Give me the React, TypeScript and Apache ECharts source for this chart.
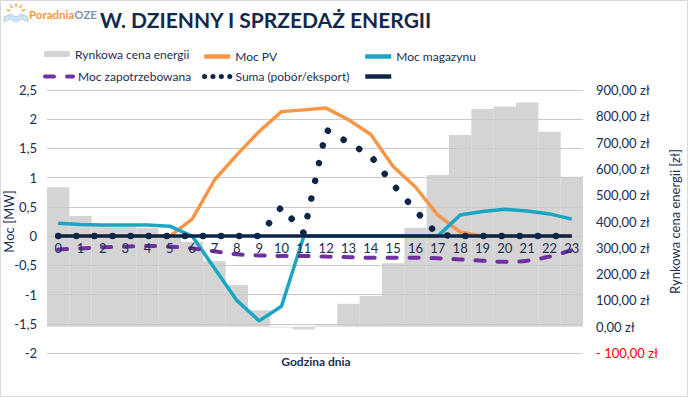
import React, { useEffect, useRef } from 'react';
import * as echarts from 'echarts';

const hours = ['0', '1', '2', '3', '4', '5', '6', '7', '8', '9', '10', '11', '12', '13', '14', '15', '16', '17', '18', '19', '20', '21', '22', '23'];
const marketPrice = [530, 421, 385, 380, 375, 340, 323, 250, 158, 63, -3, -10, 5, 87, 117, 241, 376, 577, 729, 828, 837, 852, 741, 570];
const pvPower = [0, 0, 0, 0, 0, 0, 0.29, 0.96, 1.39, 1.79, 2.13, 2.16, 2.19, 1.99, 1.74, 1.19, 0.84, 0.36, 0.07, 0, 0, 0, 0, 0];
const storagePower = [0.22, 0.2, 0.19, 0.19, 0.19, 0.17, 0.0, -0.55, -1.1, -1.45, -1.2, 0, 0, 0, 0, 0, 0, 0, 0.36, 0.42, 0.46, 0.43, 0.38, 0.29];
const demandPower = [-0.23, -0.21, -0.19, -0.18, -0.17, -0.18, -0.21, -0.26, -0.31, -0.33, -0.34, -0.34, -0.35, -0.36, -0.37, -0.37, -0.37, -0.38, -0.4, -0.42, -0.44, -0.42, -0.35, -0.24];
const netPower = [0, 0, 0, 0, 0, 0, 0, 0, 0, 0, 0.5, 0.05, 1.82, 1.6, 1.37, 0.88, 0.44, 0.02, 0, 0, 0, 0, 0, 0];
const zeroLine = [0, 0, 0, 0, 0, 0, 0, 0, 0, 0, 0, 0, 0, 0, 0, 0, 0, 0, 0, 0, 0, 0, 0, 0];

const NAVY = '#1a2e52';
const FONT = 'Lato';

const GRID_TOP = 90;
const GRID_BOTTOM = 45;
const CHART_H = 398;
const POWER_MIN = -2;
const POWER_MAX = 2.5;

export default function App() {
  const ref = useRef<HTMLDivElement>(null);
  useEffect(() => {
    const chart = echarts.init(ref.current!, null, { renderer: 'svg' });
    const gridH = CHART_H - GRID_TOP - GRID_BOTTOM;
    const zeroOffset = -gridH * (0 - POWER_MIN) / (POWER_MAX - POWER_MIN);
    const legendBase = {
      padding: 0,
      itemWidth: 26,
      itemHeight: 1,
      lineStyle: { width: 4.5 },
      textStyle: { color: NAVY, fontSize: 12, fontFamily: FONT },
      selectedMode: false,
    };
    const rays: any[] = [];
    for (let i = 0; i < 5; i++) {
      const a = (-160 + i * 35) * Math.PI / 180;
      rays.push({
        type: 'line',
        shape: { x1: 16 + Math.cos(a) * 6, y1: 13 + Math.sin(a) * 6, x2: 16 + Math.cos(a) * 10, y2: 13 + Math.sin(a) * 10 },
        style: { stroke: '#f6a84a', lineWidth: 1.5 },
      });
    }
    chart.setOption({
      animation: false,
      textStyle: { fontFamily: FONT },
      grid: { left: 47, right: 106, top: GRID_TOP, bottom: GRID_BOTTOM, outerBoundsMode: 'none', containLabel: false },
      legend: [
        { ...legendBase, itemHeight: 6, left: 44, top: 48, data: ['Rynkowa cena energii'] },
        { ...legendBase, left: 202, top: 50.5, data: ['Moc PV'] },
        { ...legendBase, left: 363, top: 50.5, data: ['Moc magazynu'] },
        { ...legendBase, left: 43, top: 70.5, itemWidth: 28, lineStyle: { width: 4 }, data: ['Moc zapotrzebowana'] },
        { ...legendBase, left: 202, top: 70.5, data: [{ name: 'Suma (pobór/eksport)', lineStyle: { type: [0.1, 8.3], width: 5, cap: 'round' } }] },
        { ...legendBase, left: 363, top: 70.5, data: [' '] },
      ],
      xAxis: {
        type: 'category',
        data: hours,
        offset: zeroOffset,
        z: 5,
        axisLine: { show: false, onZero: false },
        axisTick: { show: false },
        axisLabel: { color: NAVY, fontSize: 13, margin: 5, interval: 0 },
        splitLine: { show: false },
      },
      yAxis: [
        {
          type: 'value', min: POWER_MIN, max: POWER_MAX, interval: 0.5, z: 2,
          name: 'Moc [MW]', nameLocation: 'middle', nameRotate: 90, nameGap: 32, nameMoveOverlap: false,
          nameTextStyle: { color: NAVY, fontSize: 13 },
          axisLine: { show: false }, axisTick: { show: false },
          axisLabel: { color: NAVY, fontSize: 13, margin: 10, formatter: (v: number) => String(v).replace('.', ',') },
          splitLine: { show: true, lineStyle: { color: '#c9c9c9', width: 1 } },
        },
        {
          type: 'value', min: -100, max: 900, interval: 100, position: 'right',
          name: 'Rynkowa cena energii [zł]', nameLocation: 'middle', nameRotate: 90, nameGap: 76,
          nameTextStyle: { color: NAVY, fontSize: 13 },
          axisLine: { show: false }, axisTick: { show: false },
          axisLabel: {
            fontSize: 13, margin: 13,
            color: (v: any) => (Number(v) < 0 ? '#ff0000' : NAVY),
            formatter: (v: number) => (v < 0 ? '- ' : '') + Math.abs(v).toFixed(2).replace('.', ',') + ' zł',
          },
          splitLine: { show: false },
        },
      ],
      series: [
        {
          name: 'Rynkowa cena energii', type: 'bar', yAxisIndex: 1, data: marketPrice, z: 1,
          barCategoryGap: '0%', itemStyle: { color: '#d4d4d4' },
        },
        {
          name: 'Moc PV', type: 'line', data: pvPower, symbol: 'none', z: 3,
          lineStyle: { color: '#f79646', width: 3.5 }, itemStyle: { color: '#f79646' },
        },
        {
          name: 'Moc magazynu', type: 'line', data: storagePower, symbol: 'none', z: 3,
          lineStyle: { color: '#1aa6c2', width: 3.5 }, itemStyle: { color: '#1aa6c2' },
        },
        {
          name: 'Moc zapotrzebowana', type: 'line', data: demandPower, symbol: 'none', z: 3, smooth: 0.4,
          lineStyle: { color: '#7030a0', width: 4, type: [9, 13], cap: 'round' }, itemStyle: { color: '#7030a0' },
        },
        {
          name: ' ', type: 'line', data: zeroLine, symbol: 'none', z: 3,
          lineStyle: { color: '#0e2548', width: 3.5 }, itemStyle: { color: '#0e2548' },
        },
        {
          name: 'Suma (pobór/eksport)', type: 'line', data: netPower, symbol: 'none', z: 4,
          lineStyle: { color: '#0e2548', width: 6.5, type: [0.1, 18], cap: 'round' }, itemStyle: { color: '#0e2548' },
        },
      ],
      graphic: [
        { type: 'rect', shape: { x: 0.5, y: 0.5, width: 687, height: 396 }, style: { fill: 'none', stroke: '#d9d9d9', lineWidth: 1 }, silent: true },
        ...rays,
        {
          type: 'polygon',
          shape: { points: [[4, 17], [10, 14], [16, 17], [22, 14], [28, 17], [28, 22], [22, 19], [16, 22], [10, 19], [4, 22]] },
          style: { fill: '#cfe3f2', stroke: '#a9cbe6', lineWidth: 0.8 },
        },
        {
          type: 'text', left: 29, top: 8,
          style: {
            text: '{a|Poradnia}{b|OZE}',
            rich: {
              a: { fill: '#f39a3c', fontSize: 11.5, fontWeight: 'bold', fontFamily: FONT },
              b: { fill: '#7f93ad', fontSize: 11.5, fontWeight: 'bold', fontFamily: FONT },
            },
          },
        },
        {
          type: 'text', left: 100, top: 9,
          style: { text: 'W. DZIENNY I SPRZEDAŻ ENERGII', fill: '#13294b', fontSize: 21, fontWeight: 'bold', fontFamily: FONT },
        },
        {
          type: 'text', x: 316, y: 361,
          style: { text: 'Godzina dnia', fill: NAVY, fontSize: 12, fontWeight: 'bold', fontFamily: FONT, align: 'center', verticalAlign: 'middle' },
        },
      ],
    });
    return () => chart.dispose();
  }, []);
  return <div ref={ref} style={{ position: 'absolute', left: 0, top: 0, width: 689, height: 398 }} />;
}
